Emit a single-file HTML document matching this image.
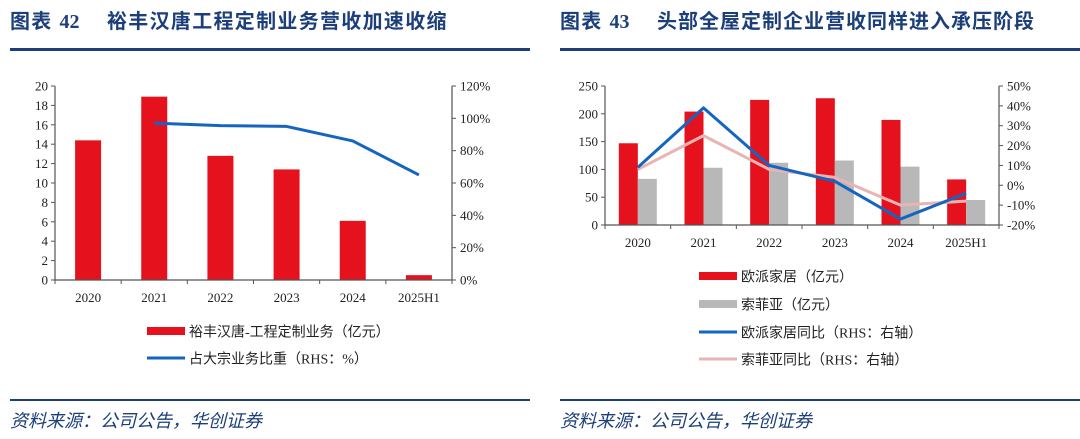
<!DOCTYPE html>
<html><head><meta charset="utf-8">
<style>
body{margin:0;width:1080px;height:439px;background:#fff;overflow:hidden;position:relative;font-family:"Liberation Serif","Noto Sans CJK SC",serif;}
.t{position:absolute;top:5px;color:#1c3f7a;font-weight:bold;font-size:20px;font-family:"Liberation Sans","Noto Sans CJK SC",sans-serif;white-space:nowrap;letter-spacing:1.3px}
.rule{position:absolute;height:3px;background:#1c3f7a}
.src{position:absolute;top:407px;color:#1c3f7a;font-style:italic;font-size:18px;font-family:"Liberation Sans","Noto Sans CJK SC",sans-serif}
svg{position:absolute;left:0;top:0}
</style></head><body>
<div class="t" style="left:10px">图表 <span style="font-family:'Liberation Serif';letter-spacing:0">42</span></div>
<div class="t" style="left:107px">裕丰汉唐工程定制业务营收加速收缩</div>
<div class="t" style="left:560px">图表 <span style="font-family:'Liberation Serif';letter-spacing:0">43</span></div>
<div class="t" style="left:657px;letter-spacing:1.0px">头部全屋定制企业营收同样进入承压阶段</div>
<div class="rule" style="left:10px;width:520px;top:48px"></div>
<div class="rule" style="left:560px;width:520px;top:48px"></div>
<div class="rule" style="left:10px;width:520px;top:399px;height:2px"></div>
<div class="rule" style="left:560px;width:520px;top:399px;height:2px"></div>
<div class="src" style="left:10px">资料来源：公司公告，华创证券</div>
<div class="src" style="left:560px">资料来源：公司公告，华创证券</div>
<svg id="c" width="1080" height="439"></svg>
<script>
const cats=["2020","2021","2022","2023","2024","2025H1"];
const yfValues=[14.4,18.9,12.8,11.4,6.1,0.5];
const yfShare=[null,97,95.5,95,86,65];
const leftTicks=[0,2,4,6,8,10,12,14,16,18,20];
const rightTicksA=[0,20,40,60,80,100,120];
const opValues=[147,204,225,228,189,82];
const sfValues=[83,103,112,116,105,45];
const opYoY=[9,39,10,2,-17,-4];
const sfYoY=[8,25,8,4,-10,-8];
const leftTicksB=[0,50,100,150,200,250];
const rightTicksB=[-20,-10,0,10,20,30,40,50];

const svg=document.getElementById('c');
const NS='http://www.w3.org/2000/svg';
function mk(tag,attrs,parent){const e=document.createElementNS(NS,tag);for(const k in attrs)e.setAttribute(k,attrs[k]);(parent||svg).appendChild(e);return e;}
function txt(x,y,s,anchor,size,name){const e=mk('text',{x:x,y:y,'text-anchor':anchor,'font-size':size||13,fill:'#222','font-family':'"Liberation Serif","Noto Sans CJK SC",serif'});e.textContent=s;


return e;}

function chart(o){
  const {x0,x1,yTop,yBot}=o;
  const n=cats.length,step=(x1-x0)/n;
  const cx=i=>x0+step*(i+0.5);
  const yl=v=>yBot-(v-o.lmin)/(o.lmax-o.lmin)*(yBot-yTop);
  const yr=v=>yBot-(v-o.rmin)/(o.rmax-o.rmin)*(yBot-yTop);
  o.bars.forEach((b,bi)=>{
    b.vals.forEach((v,i)=>{
      const bx=cx(i)+b.off;
      const r=mk('rect',{x:bx,y:yl(v),width:b.w,height:yBot-yl(v),fill:b.color});
      
      
    });
  });
  const ax=mk('path',{d:`M${x0},${yTop}V${yBot}H${x1}M${x1},${yTop}V${yBot}`,stroke:'#555','stroke-width':1.2,fill:'none'});
  
  
  for(let i=0;i<=n;i++) mk('line',{x1:x0+step*i,x2:x0+step*i,y1:yBot,y2:yBot+4,stroke:'#555'});
  o.lt.forEach(v=>{mk('line',{x1:x0-4,x2:x0,y1:yl(v),y2:yl(v),stroke:'#555'});txt(x0-7,yl(v)+4.5,String(v),'end',13,o.id+'-left-tick');});
  o.rt.forEach(v=>{mk('line',{x1:x1,x2:x1+4,y1:yr(v),y2:yr(v),stroke:'#555'});txt(x1+8,yr(v)+4.5,v+'%','start',13,o.id+'-right-tick');});
  cats.forEach((c,i)=>txt(cx(i),yBot+22,c,'middle',13,o.id+'-x-label'));
  o.lines.forEach(l=>{
    let d='';l.vals.forEach((v,i)=>{if(v===null)return;d+=(d?'L':'M')+cx(i)+','+yr(v);});
    const p=mk('path',{d:d,stroke:l.color,'stroke-width':3,fill:'none','stroke-linejoin':'round'});
    
    
  });
  o.legend.forEach(g=>{
    if(g.type==='bar')mk('rect',{x:g.x,y:g.y-4,width:38,height:8,fill:g.color});
    else mk('line',{x1:g.x,x2:g.x+38,y1:g.y,y2:g.y,stroke:g.color,'stroke-width':3});
    txt(g.x+42,g.y+5.5,g.label,'start',14,'legend-entry');
  });
}
chart({id:'c42',x0:55,x1:452,yTop:86,yBot:280,lmin:0,lmax:20,rmin:0,rmax:120,lt:leftTicks,rt:rightTicksA,
  bars:[{vals:yfValues,off:-13,w:26,color:'#e5121e',name:'yufeng'}],
  lines:[{vals:yfShare,color:'#1565c0',name:'share'}],
  legend:[{type:'bar',x:147,y:331,color:'#e5121e',label:'裕丰汉唐-工程定制业务（亿元）'},{type:'line',x:147,y:358,color:'#1565c0',label:'占大宗业务比重（RHS：%）'}]});
chart({id:'c43',x0:605,x1:999,yTop:86,yBot:225,lmin:0,lmax:250,rmin:-20,rmax:50,lt:leftTicksB,rt:rightTicksB,
  bars:[{vals:opValues,off:-19,w:19,color:'#e5121e',name:'oppein'},{vals:sfValues,off:0,w:19,color:'#b8b8b8',name:'sofia'}],
  lines:[{vals:sfYoY,color:'#e8b4b4',name:'sofia-yoy'},{vals:opYoY,color:'#1565c0',name:'oppein-yoy'}],
  legend:[{type:'bar',x:699,y:276,color:'#e5121e',label:'欧派家居（亿元）'},{type:'bar',x:699,y:304,color:'#b8b8b8',label:'索菲亚（亿元）'},
          {type:'line',x:699,y:332,color:'#1565c0',label:'欧派家居同比（RHS：右轴）'},{type:'line',x:699,y:359,color:'#e8b4b4',label:'索菲亚同比（RHS：右轴）'}]});
</script>
</body></html>
